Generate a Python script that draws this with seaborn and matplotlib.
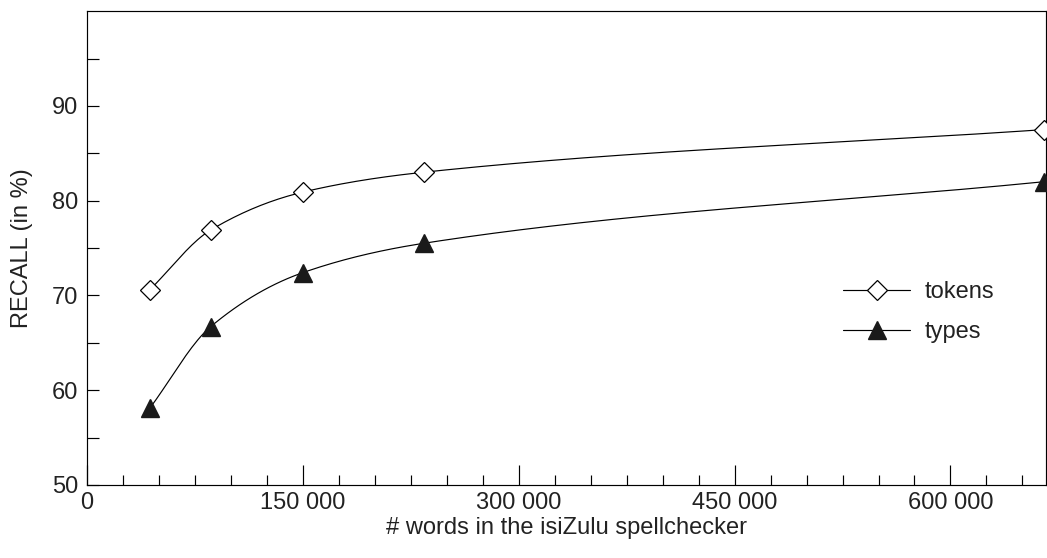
import numpy as np
import pandas as pd
import matplotlib
matplotlib.use("Agg")
import matplotlib.pyplot as plt
from matplotlib.lines import Line2D
from matplotlib.ticker import FixedLocator
import seaborn as sns

# ---- data ----
words = [43750, 86000, 150000, 234000, 665000]
tokens = [70.6, 76.9, 80.9, 83.0, 87.5]
types = [58.1, 66.7, 72.4, 75.5, 82.0]
series_names = ["tokens", "types"]
x_tick_values = [0, 150000, 300000, 450000, 600000]
x_tick_labels = ["0", "150 000", "300 000", "450 000", "600 000"]
x_minor_values = [v for v in range(25000, 675000, 25000) if v % 150000 != 0]
y_tick_values = [50, 60, 70, 80, 90]
y_minor_values = [55, 65, 75, 85, 95]

sns.set_theme(style="white")
plt.rcParams["font.family"] = ["Liberation Sans", "DejaVu Sans"]

FS = 17
LW = 0.85


def smooth(x, y, n=300):
    """Monotone cubic Hermite (Fritsch-Carlson) curve for drawing a smoothed line."""
    x = np.asarray(x, float)
    y = np.asarray(y, float)
    h = np.diff(x)
    d = np.diff(y) / h
    m = np.zeros_like(y)
    m[0] = d[0]
    m[-1] = d[-1]
    for i in range(1, len(x) - 1):
        if d[i - 1] * d[i] <= 0:
            m[i] = 0
        else:
            w1 = 2 * h[i] + h[i - 1]
            w2 = h[i] + 2 * h[i - 1]
            m[i] = (w1 + w2) / (w1 / d[i - 1] + w2 / d[i])
    xs = np.linspace(x[0], x[-1], n)
    idx = np.clip(np.searchsorted(x, xs) - 1, 0, len(x) - 2)
    t = (xs - x[idx]) / h[idx]
    h00 = 2 * t**3 - 3 * t**2 + 1
    h10 = t**3 - 2 * t**2 + t
    h01 = -2 * t**3 + 3 * t**2
    h11 = t**3 - t**2
    ys = h00 * y[idx] + h10 * h[idx] * m[idx] + h01 * y[idx + 1] + h11 * h[idx] * m[idx + 1]
    return xs, ys


fig = plt.figure(figsize=(10.47, 5.58), dpi=100)
ax = fig.add_axes([0.083, 0.131, 0.9165, 0.849])

for vals in (tokens, types):
    xs, ys = smooth(words, vals)
    sns.lineplot(x=xs, y=ys, ax=ax, color="black", linewidth=LW, sort=False)

df = pd.DataFrame({"x": words, "tokens": tokens, "types": types})
ax.plot(df["x"], df["tokens"], linestyle="none", marker="D", markersize=10,
        markerfacecolor="white", markeredgecolor="black", markeredgewidth=0.9,
        clip_on=False, zorder=5)
ax.plot(df["x"], df["types"], linestyle="none", marker="^", markersize=13,
        markerfacecolor="#1a1a1a", markeredgecolor="#1a1a1a",
        clip_on=False, zorder=5)

ax.set_xlim(0, 666700)
ax.set_ylim(50, 100)

ax.xaxis.set_major_locator(FixedLocator(x_tick_values))
ax.set_xticklabels(x_tick_labels)
ax.xaxis.set_minor_locator(FixedLocator(x_minor_values))
ax.yaxis.set_major_locator(FixedLocator(y_tick_values))
ax.yaxis.set_minor_locator(FixedLocator(y_minor_values))

ax.tick_params(axis="both", which="both", direction="in", colors="black",
               labelsize=FS, labelcolor="#222222")
ax.tick_params(axis="x", which="major", length=14.5, width=LW, pad=5, bottom=True, top=False)
ax.tick_params(axis="x", which="minor", length=7.2, width=LW, bottom=True, top=False)
ax.tick_params(axis="y", which="major", length=8.6, width=LW, pad=6, left=True, right=False)
ax.tick_params(axis="y", which="minor", length=8.6, width=LW, left=True, right=False)

for s in ax.spines.values():
    s.set_visible(True)
    s.set_color("black")
    s.set_linewidth(LW)

ax.set_xlabel("# words in the isiZulu spellchecker", fontsize=FS, color="#222222", labelpad=2)
ax.set_ylabel("RECALL (in %)", fontsize=FS, color="#222222", labelpad=14)

handles = [
    Line2D([], [], color="black", linewidth=LW, marker="D", markersize=10,
           markerfacecolor="white", markeredgecolor="black", markeredgewidth=0.9),
    Line2D([], [], color="black", linewidth=LW, marker="^", markersize=13,
           markerfacecolor="#1a1a1a", markeredgecolor="#1a1a1a"),
]
ax.legend(handles, series_names, loc="upper left", bbox_to_anchor=(0.766, 0.475),
          frameon=False, fontsize=FS, handlelength=2.85, handletextpad=0.6,
          labelspacing=0.75, numpoints=1, labelcolor="#222222")

fig.savefig("out.png", dpi=100)
